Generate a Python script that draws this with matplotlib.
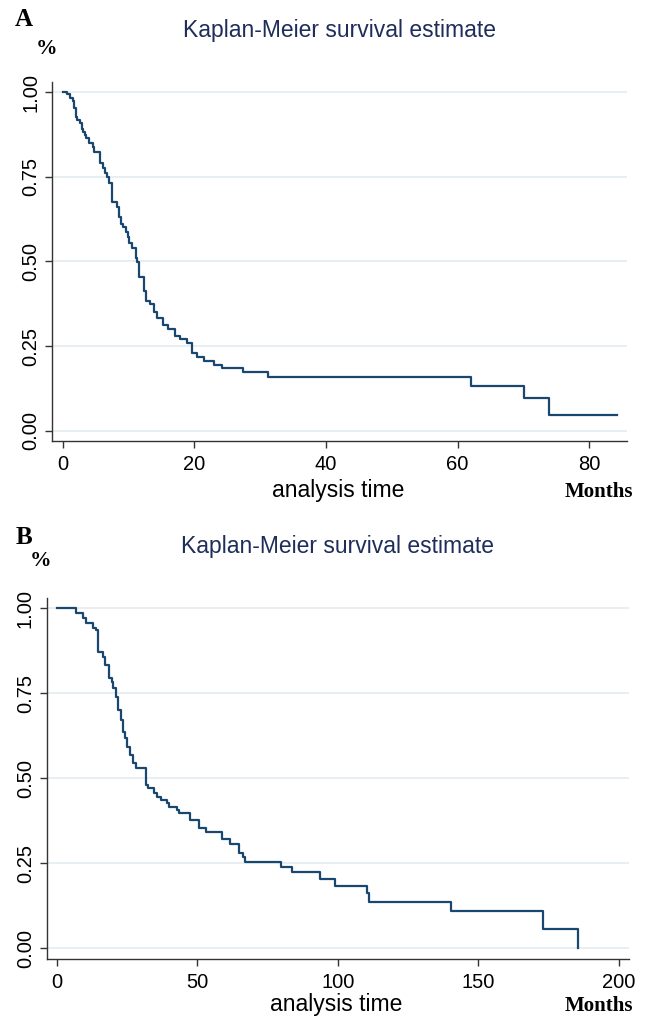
import matplotlib
matplotlib.use("Agg")
import matplotlib.pyplot as plt

# ---- data ----
time_a = [0, 0.6, 1.1, 1.5, 1.7, 2.0, 2.2, 2.6, 2.9, 3.1, 3.4, 3.6, 4.0, 4.6, 4.8, 5.6, 6.1, 6.4, 6.8, 7.1,
          7.5, 8.2, 8.6, 8.9, 9.2, 9.6, 9.9, 10.1, 10.5, 11.1, 11.3, 11.6, 12.3, 12.7, 13.3, 13.9, 14.3, 15.2, 16.0, 17.1,
          17.8, 18.9, 19.6, 20.4, 21.5, 23.0, 24.2, 27.4, 31.2, 62.0, 70.1, 73.9, 84.2]
surv_a = [1.0, 0.993, 0.981, 0.974, 0.952, 0.927, 0.917, 0.909, 0.890, 0.883, 0.873, 0.863, 0.849, 0.838, 0.824, 0.789, 0.775, 0.760, 0.750, 0.730,
          0.676, 0.661, 0.632, 0.610, 0.602, 0.588, 0.573, 0.553, 0.539, 0.509, 0.499, 0.455, 0.413, 0.383, 0.373, 0.351, 0.332, 0.312, 0.299, 0.280,
          0.270, 0.258, 0.229, 0.217, 0.206, 0.194, 0.186, 0.173, 0.158, 0.131, 0.097, 0.047, 0.047]

time_b = [0, 6.8, 9.4, 10.4, 12.8, 14.0, 14.5, 14.8, 16.3, 17.2, 18.7, 19.5, 20.1, 21.1, 21.9, 22.7, 23.4, 24.3, 25.1, 26.0,
          27.0, 28.2, 31.6, 32.4, 34.6, 35.8, 37.1, 39.3, 39.9, 42.9, 43.6, 47.4, 50.7, 53.1, 58.7, 61.6, 64.9, 66.4, 67.0, 79.7,
          83.6, 93.7, 99.0, 110.5, 111.1, 140.3, 173.0, 185.4]
surv_b = [1.0, 0.984, 0.970, 0.955, 0.940, 0.935, 0.905, 0.872, 0.857, 0.832, 0.793, 0.783, 0.764, 0.739, 0.700, 0.671, 0.636, 0.617, 0.592, 0.568,
          0.543, 0.529, 0.480, 0.470, 0.455, 0.443, 0.435, 0.426, 0.416, 0.406, 0.396, 0.376, 0.352, 0.342, 0.320, 0.306, 0.281, 0.269, 0.254, 0.239,
          0.224, 0.202, 0.183, 0.161, 0.136, 0.110, 0.055, 0.0]

yticks = [0.0, 0.25, 0.5, 0.75, 1.0]
ytick_labels = ["0.00", "0.25", "0.50", "0.75", "1.00"]
xticks_a = [0, 20, 40, 60, 80]
xticks_b = [0, 50, 100, 150, 200]

title = "Kaplan-Meier survival estimate"
xlabel = "analysis time"
unit_label = "Months"
panel_labels = ["A", "B"]

# ---- styling ----
W, H = 645, 1017
DPI = 100
LINE_COLOR = "#1a476f"
GRID_COLOR = "#e6eef1"
TITLE_COLOR = "#1e2d5a"
SANS = ["Liberation Sans", "DejaVu Sans"]
SERIF = ["Liberation Serif", "DejaVu Serif"]

fig = plt.figure(figsize=(W / DPI, H / DPI), dpi=DPI)
fig.patch.set_facecolor("white")


def rect(left, right, top, bottom):
    return [left / W, 1 - bottom / H, (right - left) / W, (bottom - top) / H]


def fx(px):
    return px / W


def fy(py):
    return 1 - py / H


def make_panel(ax_rect, t, s, xlim, xticks, ylim):
    ax = fig.add_axes(ax_rect)
    ax.set_facecolor("white")
    for y in yticks:
        ax.axhline(y, color=GRID_COLOR, lw=1.3, zorder=0)
    ax.step(t, s, where="post", color=LINE_COLOR, lw=1.6, zorder=3)
    ax.set_xlim(*xlim)
    ax.set_ylim(*ylim)
    ax.set_xticks(xticks)
    ax.set_xticklabels([str(v) for v in xticks], fontsize=14.5, family=SANS)
    ax.set_yticks(yticks)
    ax.set_yticklabels(ytick_labels, fontsize=14.5, family=SANS, rotation=90, va="center")
    for sp in ["top", "right"]:
        ax.spines[sp].set_visible(False)
    for sp in ["left", "bottom"]:
        ax.spines[sp].set_color("#333333")
        ax.spines[sp].set_linewidth(1.0)
    ax.tick_params(axis="both", direction="out", length=5, width=1.0, color="#333333")
    ax.tick_params(axis="x", pad=5)
    ax.tick_params(axis="y", pad=3.5)
    return ax


# Panel A
axA = make_panel(rect(52.3, 626.7, 81.5, 441.3), time_a, surv_a, (-1.58, 85.7), xticks_a, (-0.031, 1.031))
# Panel B
axB = make_panel(rect(46.7, 628.7, 597.5, 958.7), time_b, surv_b, (-3.6, 203.5), xticks_b, (-0.031, 1.031))

# titles
fig.text(fx(339.5), fy(31), title, ha="center", va="center", fontsize=16.5, color=TITLE_COLOR, family=SANS)
fig.text(fx(337.7), fy(546), title, ha="center", va="center", fontsize=16.5, color=TITLE_COLOR, family=SANS)

# axis titles
fig.text(fx(338), fy(491), xlabel, ha="center", va="center", fontsize=16.5, color="black", family=SANS)
fig.text(fx(336), fy(1005), xlabel, ha="center", va="center", fontsize=16.5, color="black", family=SANS)

# unit labels
fig.text(fx(633), fy(492), unit_label, ha="right", va="center", fontsize=15, fontweight="bold", family=SERIF)
fig.text(fx(633), fy(1006), unit_label, ha="right", va="center", fontsize=15, fontweight="bold", family=SERIF)

# panel letters and % labels
fig.text(fx(24), fy(20), panel_labels[0], ha="center", va="center", fontsize=18, fontweight="bold", family=SERIF)
fig.text(fx(46), fy(49), "%", ha="center", va="center", fontsize=15.5, fontweight="bold", family=SERIF)
fig.text(fx(24), fy(537), panel_labels[1], ha="center", va="center", fontsize=18, fontweight="bold", family=SERIF)
fig.text(fx(41), fy(561), "%", ha="center", va="center", fontsize=15.5, fontweight="bold", family=SERIF)

fig.savefig("out.png", dpi=DPI, facecolor="white")
